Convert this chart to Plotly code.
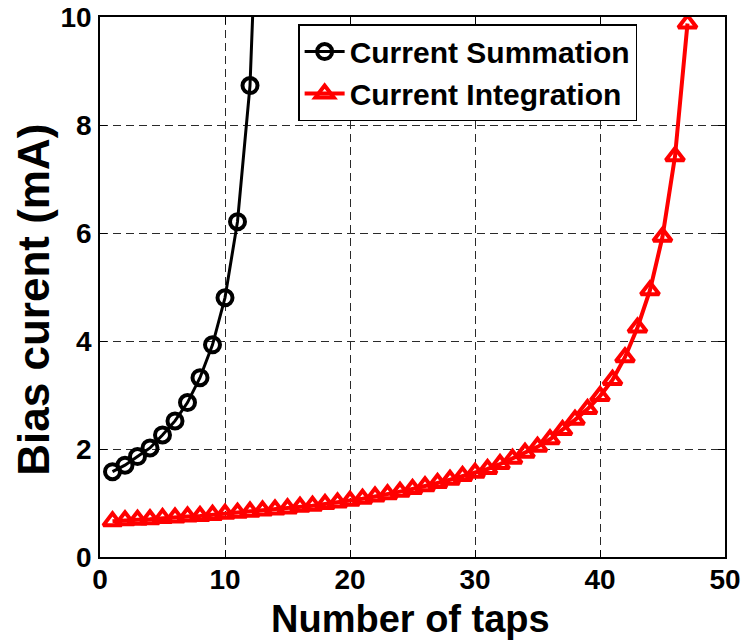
import plotly.graph_objects as go

# Number of taps for each configuration
taps_sum = list(range(1, 14))
taps_int = list(range(1, 48))

# Bias current (mA)
bias_sum = [1.58, 1.70, 1.86, 2.02, 2.26, 2.52, 2.86, 3.32, 3.93, 4.80, 6.21, 8.73, 14.8]
bias_int = [0.66, 0.68, 0.69, 0.70, 0.72, 0.73, 0.75, 0.76, 0.78, 0.80,
            0.82, 0.84, 0.86, 0.88, 0.90, 0.93, 0.95, 0.98, 1.01, 1.04,
            1.08, 1.12, 1.16, 1.21, 1.26, 1.31, 1.37, 1.43, 1.50, 1.56,
            1.63, 1.72, 1.82, 1.93, 2.04, 2.18, 2.35, 2.54, 2.74, 2.98,
            3.28, 3.70, 4.25, 4.94, 5.93, 7.42, 9.88]

x_ticks = [0, 10, 20, 30, 40, 50]
y_ticks = [0, 2, 4, 6, 8, 10]

x_title = "Number of taps"
y_title = "Bias curent (mA)"

FONT = "Liberation Sans, Arial, sans-serif"

fig = go.Figure()
fig.add_trace(go.Scatter(
    x=taps_sum, y=bias_sum, mode="lines+markers", name="Current Summation",
    legendgroup="sum",
    line=dict(color="black", width=3),
    marker=dict(symbol="circle-open", size=15, color="black", line=dict(width=4)),
))
fig.add_trace(go.Scatter(
    x=taps_int, y=bias_int, mode="lines+markers", name="Current Integration",
    legendgroup="int",
    line=dict(color="red", width=4),
    marker=dict(symbol="triangle-up-open", size=16, color="red", line=dict(width=4)),
))

axis_common = dict(
    showline=True, linecolor="black", linewidth=1.5, mirror="ticks",
    ticks="inside", ticklen=7, tickwidth=1, tickcolor="black",
    showgrid=True, gridcolor="#2a2a2a", gridwidth=1, griddash="8px,5px",
    zeroline=False, automargin=False, ticklabeloverflow="allow",
    tickfont=dict(family=FONT, size=28, color="black", weight="bold"),
)

fig.update_xaxes(range=[0, 50], tickvals=x_ticks, ticktext=[str(v) for v in x_ticks],
                 ticklabelstandoff=-3, **axis_common)
fig.update_yaxes(range=[0, 10], tickvals=y_ticks, ticktext=[str(v) for v in y_ticks],
                 ticklabelstandoff=1, **axis_common)

# Axis titles placed as annotations for precise positioning
fig.add_annotation(
    text=x_title, xref="paper", yref="paper", x=0.496, y=-0.114,
    xanchor="center", yanchor="middle", showarrow=False, borderpad=0,
    font=dict(family=FONT, size=38, color="black", weight="bold"),
)
fig.add_annotation(
    text=y_title, xref="paper", yref="paper", x=-0.106, y=0.476,
    xanchor="center", yanchor="middle", textangle=-90, showarrow=False, borderpad=0,
    font=dict(family=FONT, size=44, color="black", weight="bold"),
)

fig.update_layout(
    width=747, height=642,
    margin=dict(l=100, r=22, t=17, b=85),
    paper_bgcolor="white", plot_bgcolor="white",
    legend=dict(
        x=0.317, y=0.987, xanchor="left", yanchor="top",
        bgcolor="white", bordercolor="black", borderwidth=1.5,
        font=dict(family=FONT, size=30, color="black", weight="bold"),
        itemwidth=40, tracegroupgap=0,
    ),
    showlegend=True,
)

fig.write_html("out.html")
